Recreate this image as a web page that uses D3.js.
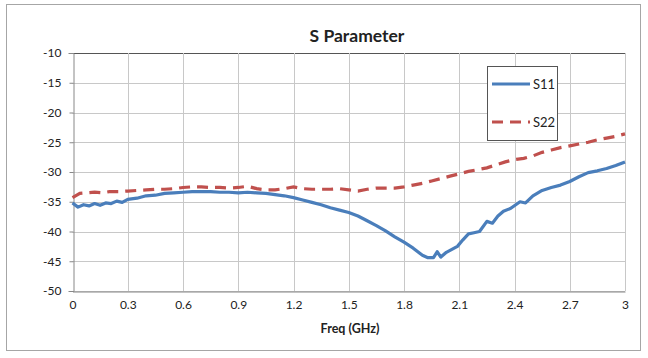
<!DOCTYPE html>
<html><head><meta charset="utf-8">
<script src="https://cdn.jsdelivr.net/npm/d3@7"></script>
<style>
html,body{margin:0;padding:0;background:#fff;}
svg{display:block;font-family:Lato,"Open Sans",sans-serif;}
</style></head>
<body>
<svg id="c" width="648" height="358"></svg>
<script>
const title = "S Parameter";
const xLabel = "Freq (GHz)";
const xTicks = [0,0.3,0.6,0.9,1.2,1.5,1.8,2.1,2.4,2.7,3];
const yTicks = [-10,-15,-20,-25,-30,-35,-40,-45,-50];
const s11Freq = [0,0.03,0.06,0.09,0.12,0.15,0.18,0.21,0.24,0.27,0.30,0.35,0.40,0.45,0.50,0.55,0.60,0.65,0.70,0.75,0.80,0.85,0.90,0.95,1.00,1.05,1.10,1.15,1.20,1.25,1.30,1.35,1.40,1.45,1.50,1.55,1.60,1.65,1.70,1.75,1.80,1.85,1.90,1.93,1.96,1.98,2.00,2.03,2.06,2.09,2.12,2.15,2.18,2.21,2.25,2.28,2.31,2.34,2.38,2.43,2.46,2.50,2.55,2.60,2.65,2.70,2.75,2.80,2.85,2.90,2.95,3.00];
const s11 = [-35.2,-35.9,-35.5,-35.7,-35.3,-35.6,-35.2,-35.3,-34.9,-35.1,-34.6,-34.4,-34.0,-33.9,-33.6,-33.5,-33.4,-33.3,-33.3,-33.3,-33.4,-33.4,-33.5,-33.4,-33.5,-33.6,-33.8,-34.0,-34.3,-34.7,-35.1,-35.5,-36.0,-36.4,-36.8,-37.4,-38.2,-39.0,-39.9,-40.9,-41.8,-42.8,-44.0,-44.4,-44.4,-43.4,-44.3,-43.5,-43.0,-42.5,-41.4,-40.4,-40.2,-40.0,-38.3,-38.6,-37.4,-36.6,-36.1,-35.0,-35.2,-34.0,-33.1,-32.6,-32.2,-31.6,-30.8,-30.1,-29.8,-29.4,-28.9,-28.3];
const s22Freq = [0,0.04,0.08,0.12,0.16,0.20,0.25,0.30,0.35,0.40,0.45,0.50,0.55,0.60,0.65,0.70,0.75,0.80,0.85,0.90,0.95,1.00,1.05,1.10,1.15,1.20,1.25,1.30,1.35,1.40,1.45,1.50,1.55,1.60,1.65,1.70,1.75,1.80,1.85,1.90,1.95,2.00,2.05,2.10,2.15,2.20,2.25,2.30,2.35,2.40,2.45,2.50,2.55,2.60,2.65,2.70,2.75,2.80,2.85,2.90,2.95,3.00];
const s22 = [-34.3,-33.6,-33.5,-33.4,-33.5,-33.3,-33.3,-33.2,-33.1,-33.0,-32.9,-32.9,-32.8,-32.6,-32.5,-32.5,-32.6,-32.6,-32.7,-32.6,-32.4,-32.8,-33.0,-33.0,-32.8,-32.5,-32.8,-32.9,-32.9,-32.9,-32.8,-33.0,-33.2,-32.9,-32.7,-32.7,-32.7,-32.5,-32.2,-31.9,-31.5,-31.1,-30.7,-30.3,-29.9,-29.6,-29.3,-28.8,-28.3,-27.9,-27.7,-27.3,-26.7,-26.3,-25.9,-25.6,-25.3,-25.0,-24.6,-24.3,-24.0,-23.6];

const svg = d3.select("#c");
svg.append("rect").attr("x",6.5).attr("y",4.5).attr("width",634).attr("height",346)
  .attr("fill","#fff").attr("stroke","#a6a6a6").attr("stroke-width",1);

const x = d3.scaleLinear().domain([0,3]).range([72.5,625]);
const y = d3.scaleLinear().domain([-50,-10]).range([291,53]);

// gridlines
const g = svg.append("g");
g.selectAll(".hg").data(yTicks).join("line")
  .attr("x1",x(0)).attr("x2",x(3)).attr("y1",d=>Math.round(y(d))+0.5).attr("y2",d=>Math.round(y(d))+0.5)
  .attr("stroke",d=>d===-10?"#555":"#c8c8c8").attr("stroke-width",1);
g.selectAll(".vg").data(xTicks.slice(1)).join("line")
  .attr("y1",y(-10)).attr("y2",y(-50)).attr("x1",d=>Math.round(x(d))+0.5).attr("x2",d=>Math.round(x(d))+0.5)
  .attr("stroke","#c8c8c8").attr("stroke-width",1);

// axes
const yAxis = d3.axisLeft(y).tickValues(yTicks).tickSize(5).tickFormat(d=>String(d));
const xAxis = d3.axisBottom(x).tickValues(xTicks).tickSize(0).tickFormat(d=>String(d));
const ya = svg.append("g").attr("transform",`translate(${Math.round(x(0))+0.5},0)`).call(yAxis);
ya.select(".domain").attr("stroke","#888");
ya.selectAll(".tick line").attr("stroke","#888").attr("x2",0).attr("x1",-4);
ya.selectAll("text").attr("font-size",12).attr("fill","#222").attr("x",-12).style("font-family","Lato,sans-serif");
const xa = svg.append("g").attr("transform",`translate(0,${Math.round(y(-50))+0.5})`).call(xAxis);
xa.select(".domain").attr("stroke","#888");
xa.selectAll("text").attr("font-size",12).attr("fill","#222").attr("dy","1.1em").attr("y",4).style("font-family","Lato,sans-serif");

// title and labels
svg.append("text").attr("x",357).attr("y",42).attr("text-anchor","middle")
  .attr("font-size",17.5).attr("font-weight","bold").attr("fill","#222").text(title);
svg.append("text").attr("x",350).attr("y",333).attr("text-anchor","middle")
  .attr("font-size",12.5).attr("font-weight","bold").attr("fill","#222").text(xLabel);

// lines
const line = d3.line().x(d=>x(d[0])).y(d=>y(d[1])).curve(d3.curveLinear);
svg.append("path").datum(s22Freq.map((f,i)=>[f,s22[i]])).attr("d",line)
  .attr("fill","none").attr("stroke","#c0504d").attr("stroke-width",3.2).attr("stroke-dasharray","11,7");
svg.append("path").datum(s11Freq.map((f,i)=>[f,s11[i]])).attr("d",line)
  .attr("fill","none").attr("stroke","#4a7ebb").attr("stroke-width",3.2).attr("stroke-linejoin","round");

// legend
const lg = svg.append("g");
lg.append("rect").attr("x",487.5).attr("y",66.5).attr("width",70).attr("height",74)
  .attr("fill","#fff").attr("stroke","#555").attr("stroke-width",1);
lg.append("line").attr("x1",492).attr("x2",530).attr("y1",84).attr("y2",84)
  .attr("stroke","#4a7ebb").attr("stroke-width",3.2);
lg.append("line").attr("x1",492).attr("x2",530).attr("y1",122).attr("y2",122)
  .attr("stroke","#c0504d").attr("stroke-width",3.2).attr("stroke-dasharray","11,7");
lg.append("text").attr("x",533).attr("y",88.5).attr("font-size",13).attr("fill","#222").text("S11");
lg.append("text").attr("x",533).attr("y",126.5).attr("font-size",13).attr("fill","#222").text("S22");
</script>
</body></html>
